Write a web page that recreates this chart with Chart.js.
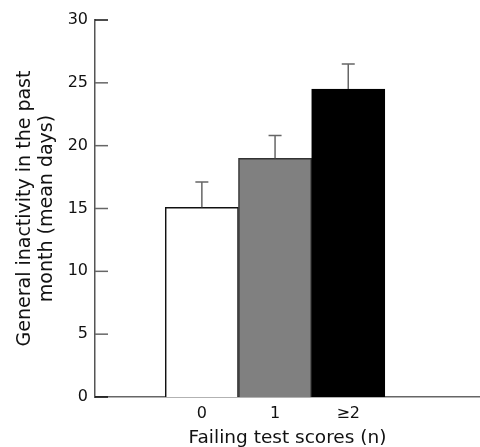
<!DOCTYPE html>
<html lang="en">
<head>
    <meta charset="UTF-8">
    <title>General inactivity by failing test scores</title>
    <script src="https://cdn.jsdelivr.net/npm/chart.js"></script>
    <style>
        body { margin: 0; background: #fff; }
        #wrap { width: 480px; height: 447px; }
    </style>
</head>
<body>
    <div id="wrap">
        <canvas id="barChart" width="480" height="447"></canvas>
    </div>

    <script>
        // Data
        const categories = ['0', '1', '\u22652'];
        const meanDays = [15.1, 19.0, 24.5];
        const errorUp = [2.0, 1.8, 2.0];
        const yTicks = [0, 5, 10, 15, 20, 25, 30];

        const barColors = ['#ffffff', '#808080', '#000000'];
        const fontFamily = "'DejaVu Sans', sans-serif";

        // error bars on top of each bar
        const errorBars = {
            id: 'errorBars',
            afterDatasetsDraw(chart) {
                const ctx = chart.ctx;
                const x = chart.scales.x, y = chart.scales.y;
                ctx.save();
                ctx.strokeStyle = '#666';
                ctx.lineWidth = 1.5;
                meanDays.forEach((m, i) => {
                    const px = x.getPixelForValue(i);
                    const top = y.getPixelForValue(m + errorUp[i]);
                    const base = y.getPixelForValue(m);
                    ctx.beginPath();
                    ctx.moveTo(px, base);
                    ctx.lineTo(px, top);
                    ctx.moveTo(px - 6.5, top);
                    ctx.lineTo(px + 6.5, top);
                    ctx.stroke();
                });
                ctx.restore();
            }
        };

        // tick marks pointing into the plot
        const innerTicks = {
            id: 'innerTicks',
            afterDraw(chart) {
                const ctx = chart.ctx;
                const y = chart.scales.y;
                const left = chart.chartArea.left;
                ctx.save();
                ctx.lineWidth = 1.5;
                yTicks.forEach(v => {
                    const py = y.getPixelForValue(v);
                    ctx.strokeStyle = (v === 0 || v === 30) ? '#111' : '#666';
                    ctx.beginPath();
                    ctx.moveTo(left, py);
                    ctx.lineTo(left + 13, py);
                    ctx.stroke();
                });
                ctx.restore();
            }
        };

        const ctx = document.getElementById('barChart').getContext('2d');
        const barChart = new Chart(ctx, {
            type: 'bar',
            data: {
                datasets: [{
                    data: meanDays.map((v, i) => ({ x: i, y: v })),
                    backgroundColor: barColors,
                    borderColor: ['#111', '#333', '#000'],
                    borderWidth: 1.5,
                    borderSkipped: 'bottom',
                    barPercentage: 1,
                    categoryPercentage: 1
                }]
            },
            options: {
                responsive: false,
                animation: false,
                devicePixelRatio: 1,
                layout: { padding: { top: 20, right: 0, left: 0, bottom: 0 } },
                plugins: {
                    legend: { display: false },
                    tooltip: { enabled: false }
                },
                scales: {
                    x: {
                        type: 'linear',
                        offset: false,
                        min: -1.46,
                        max: 3.8,
                        afterBuildTicks: s => { s.ticks = categories.map((c, i) => ({ value: i })); },
                        afterFit: s => { s.height = 50; },
                        grid: { display: false, drawTicks: false, tickLength: 0 },
                        border: { display: true, color: '#666', width: 1.5 },
                        ticks: {
                            callback: v => categories[v],
                            color: '#111',
                            padding: 7,
                            maxRotation: 0,
                            font: { family: fontFamily, size: 16 }
                        },
                        title: {
                            display: true,
                            text: 'Failing test scores (n)',
                            color: '#111',
                            padding: { top: 2, bottom: 0 },
                            font: { family: fontFamily, size: 18.5, lineHeight: 1.0 }
                        }
                    },
                    y: {
                        min: 0,
                        max: 30,
                        afterBuildTicks: s => { s.ticks = yTicks.map(v => ({ value: v })); },
                        afterFit: s => { s.width = 95; },
                        grid: { display: false, drawTicks: false, tickLength: 0 },
                        border: { display: true, color: '#555', width: 1.5 },
                        ticks: {
                            color: '#111',
                            padding: 7,
                            font: { family: fontFamily, size: 16 }
                        },
                        title: {
                            display: true,
                            text: ['General inactivity in the past', 'month (mean days)'],
                            color: '#111',
                            padding: { top: 14, bottom: 0 },
                            font: { family: fontFamily, size: 19, lineHeight: 1.15 }
                        }
                    }
                }
            },
            plugins: [errorBars, innerTicks]
        });
    </script>
</body>
</html>
